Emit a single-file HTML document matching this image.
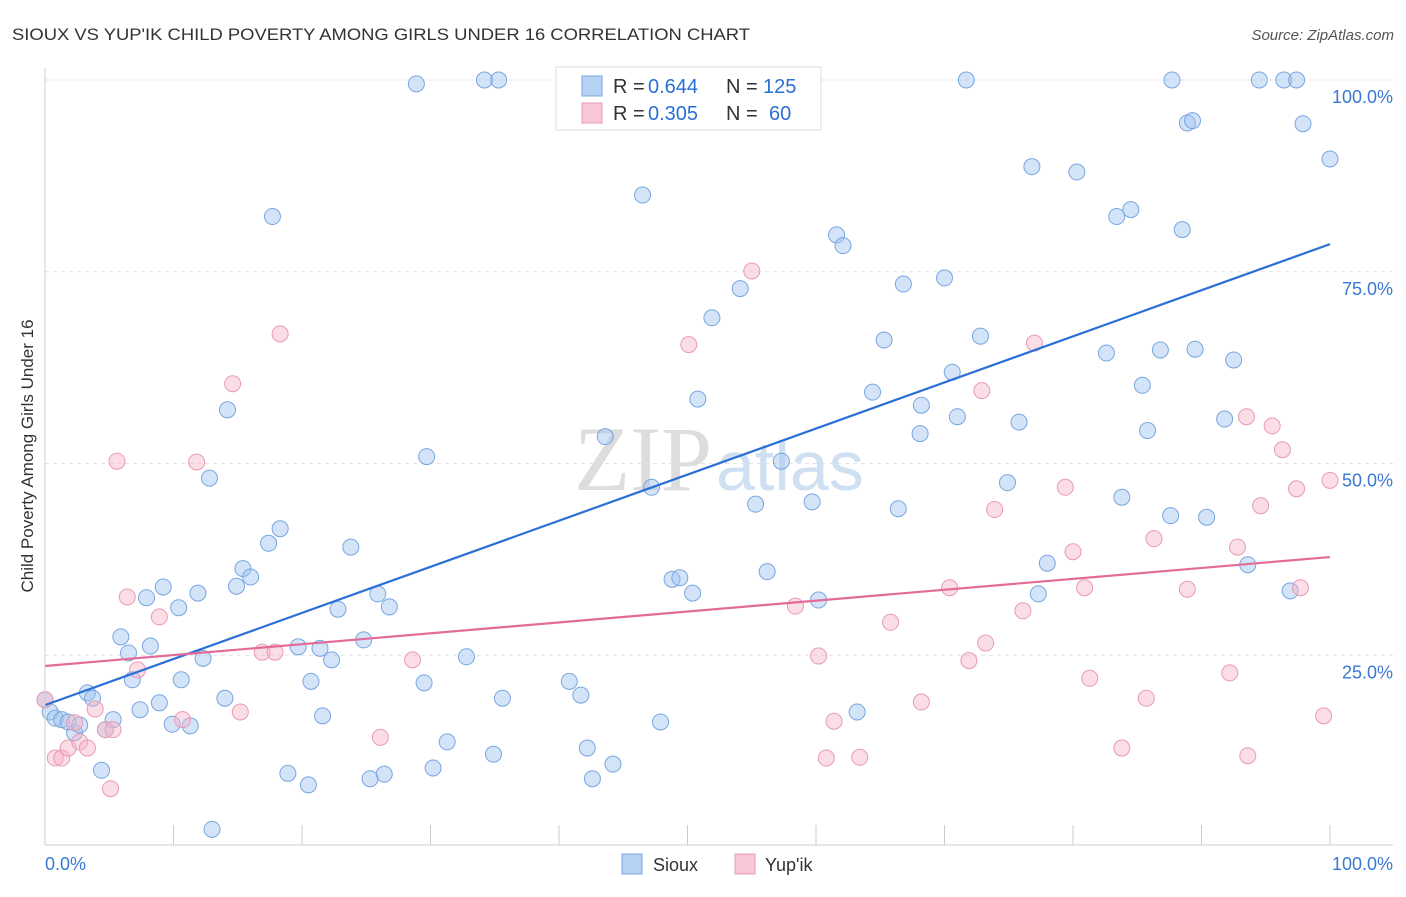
<!DOCTYPE html>
<html><head><meta charset="utf-8"><style>
body{margin:0;background:#fff;font-family:"Liberation Sans",sans-serif}
</style></head><body>
<svg id="chart" width="1406" height="892" xmlns="http://www.w3.org/2000/svg">
<text x="12" y="40" font-size="17" fill="#333" textLength="738" lengthAdjust="spacingAndGlyphs">SIOUX VS YUP'IK CHILD POVERTY AMONG GIRLS UNDER 16 CORRELATION CHART</text>
<text x="1394" y="40" font-size="15" fill="#555" font-style="italic" text-anchor="end">Source: ZipAtlas.com</text>
<g id="grid"></g>
<text x="712" y="490" font-size="92" font-family="Liberation Serif,serif" fill="#ddd" text-anchor="end">ZIP</text>
<text x="716" y="490" font-size="70" fill="#cfe0f3">atlas</text>
<text x="33" y="456" font-size="17" fill="#333" transform="rotate(-90 33 456)" text-anchor="middle">Child Poverty Among Girls Under 16</text>
<g id="pts"></g>
<g id="lines"></g>
<g id="axes"></g>
<g>
<rect x="556" y="67" width="265" height="63" fill="#fff" stroke="#ddd"/>
<rect x="582" y="76" width="20" height="20" fill="#b5d1f3" stroke="#7aa7dd"/>
<rect x="582" y="103" width="20" height="20" fill="#f9c6d5" stroke="#e89ab5"/>
<text x="613" y="93" font-size="20" fill="#333">R =</text>
<text x="648" y="93" font-size="20" fill="#2a6fd6">0.644</text>
<text x="726" y="93" font-size="20" fill="#333">N =</text>
<text x="763" y="93" font-size="20" fill="#2a6fd6">125</text>
<text x="613" y="120" font-size="20" fill="#333">R =</text>
<text x="648" y="120" font-size="20" fill="#2a6fd6">0.305</text>
<text x="726" y="120" font-size="20" fill="#333">N =</text>
<text x="769" y="120" font-size="20" fill="#2a6fd6">60</text>
</g>
<g>
<rect x="622" y="854" width="20" height="20" fill="#b5d1f3" stroke="#7aa7dd"/>
<text x="653" y="871" font-size="18" fill="#333">Sioux</text>
<rect x="735" y="854" width="20" height="20" fill="#f9c6d5" stroke="#e89ab5"/>
<text x="765" y="871" font-size="18" fill="#333">Yup'ik</text>
</g>
</svg>
<script>
const yTicks=[25,50,75,100];
const yTickLabels=["25.0%","50.0%","75.0%","100.0%"];
const siouxX=[0,0.4,0.8,1.3,1.8,2.3,2.7,3.3,3.7,4.4,4.7,5.3,5.9,6.5,6.8,7.4,7.9,8.2,8.9,9.2,9.9,10.4,10.6,11.3,11.9,12.3,12.8,13.0,14.0,14.2,14.9,15.4,16.0,17.4,17.7,18.3,18.9,19.7,20.5,20.7,21.4,21.6,22.3,22.8,23.8,24.8,25.3,25.9,26.4,26.8,28.9,29.5,29.7,30.2,31.3,32.8,34.2,34.9,35.3,35.6,40.8,41.7,42.2,42.6,43.3,43.6,44.2,46.5,47.2,47.9,48.8,49.4,50.4,50.8,51.9,54.1,54.2,55.3,56.2,57.3,59.7,60.2,61.6,62.1,63.2,64.4,65.3,66.4,66.8,68.1,68.2,70.0,70.6,71.0,71.7,72.8,74.9,75.8,76.8,77.3,78.0,80.3,82.6,83.4,83.8,84.5,85.4,85.8,86.8,87.6,87.7,88.5,88.9,89.3,89.5,90.4,91.8,92.5,93.6,94.5,96.4,96.9,97.4,97.9,100];
const siouxY=[19.2,17.6,16.8,16.6,16.3,14.9,15.9,20.1,19.4,10.0,15.3,16.6,27.4,25.3,21.8,17.9,32.5,26.2,18.8,33.9,16.0,31.2,21.8,15.8,33.1,24.6,48.1,2.3,19.4,57.0,34.0,36.3,35.2,39.6,82.2,41.5,9.6,26.1,8.1,21.6,25.9,17.1,24.4,31.0,39.1,27.0,8.9,33.0,9.5,31.3,99.5,21.4,50.9,10.3,13.7,24.8,100,12.1,100,19.4,21.6,19.8,12.9,8.9,100,53.5,10.8,85.0,46.9,16.3,34.9,35.1,33.1,58.4,69.0,72.8,100,44.7,35.9,50.3,45.0,32.2,79.8,78.4,17.6,59.3,66.1,44.1,73.4,53.9,57.6,74.2,61.9,56.1,100,66.6,47.5,55.4,88.7,33.0,37.0,88.0,64.4,82.2,45.6,83.1,60.2,54.3,64.8,43.2,100,80.5,94.4,94.7,64.9,43.0,55.8,63.5,36.8,100,100,33.4,100,94.3,89.7];
const yupikX=[0,0.8,1.3,1.8,2.3,2.7,3.3,3.9,4.7,5.1,5.3,5.6,6.4,7.2,8.9,10.7,11.8,14.6,15.2,16.9,17.9,18.3,26.1,28.6,50.1,55.0,58.4,60.2,60.8,61.4,63.4,65.8,68.2,70.4,71.9,72.9,73.2,73.9,76.1,77.0,79.4,80.0,80.9,81.3,83.8,85.7,86.3,88.9,92.2,92.8,93.5,93.6,94.6,95.5,96.3,97.4,97.7,99.5,100];
const yupikY=[19.2,11.6,11.6,12.9,16.2,13.7,12.9,18.0,15.3,7.6,15.3,50.3,32.6,23.1,30.0,16.6,50.2,60.4,17.6,25.4,25.4,66.9,14.3,24.4,65.5,75.1,31.4,24.9,11.6,16.4,11.7,29.3,18.9,33.8,24.3,59.5,26.6,44.0,30.8,65.7,46.9,38.5,33.8,22.0,12.9,19.4,40.2,33.6,22.7,39.1,56.1,11.9,44.5,54.9,51.8,46.7,33.8,17.1,47.8];
const siouxTrend=[18.5,78.6];
const yupikTrend=[23.6,37.8];
const NS="http://www.w3.org/2000/svg";
const xS=v=>45+v*12.85, yS=v=>847-v*7.67;
function mk(t,a,p){const e=document.createElementNS(NS,t);for(const k in a)e.setAttribute(k,a[k]);p.appendChild(e);return e;}
const grid=document.getElementById('grid');
yTicks.forEach((t,i)=>{
 const l=mk('line',{x1:45,x2:1393,y1:yS(t),y2:yS(t),stroke:'#e2e2e2','stroke-dasharray':'4,4'},grid);
 
 
 const tx=mk('text',{x:1393,y:yS(t)+23,'font-size':18,fill:'#3a78d4','text-anchor':'end'},grid);
 tx.textContent=yTickLabels[i];
 
 
});
const axes=document.getElementById('axes');
mk('line',{x1:45,x2:45,y1:68,y2:845,stroke:'#ccc'},axes);
mk('line',{x1:45,x2:1393,y1:845,y2:845,stroke:'#ccc'},axes);
for(let i=0;i<=10;i++){const l=mk('line',{x1:xS(i*10),x2:xS(i*10),y1:825,y2:845,stroke:'#ccc'},axes);
 
 }
const x0=mk('text',{x:45,y:870,'font-size':18,fill:'#3a78d4'},axes);x0.textContent='0.0%';


const x1=mk('text',{x:1393,y:870,'font-size':18,fill:'#3a78d4','text-anchor':'end'},axes);x1.textContent='100.0%';


const pts=document.getElementById('pts');
function drawPts(X,Y,fill,stroke,name){X.forEach((x,i)=>{const c=mk('circle',{cx:xS(x),cy:yS(Y[i]),r:8,fill:fill,stroke:stroke,'stroke-width':1},pts);
 
 });}
drawPts(siouxX,siouxY,'rgba(160,196,240,0.45)','#78a6e0','sioux-point');
drawPts(yupikX,yupikY,'rgba(246,180,200,0.45)','#e99ab6','yupik-point');
const lines=document.getElementById('lines');
const b=mk('line',{x1:xS(0),y1:yS(siouxTrend[0]),x2:xS(100),y2:yS(siouxTrend[1]),stroke:'#2a6fd6','stroke-width':2.2},lines);


const p=mk('line',{x1:xS(0),y1:yS(yupikTrend[0]),x2:xS(100),y2:yS(yupikTrend[1]),stroke:'#e26b98','stroke-width':2.2},lines);


</script>
</body></html>
